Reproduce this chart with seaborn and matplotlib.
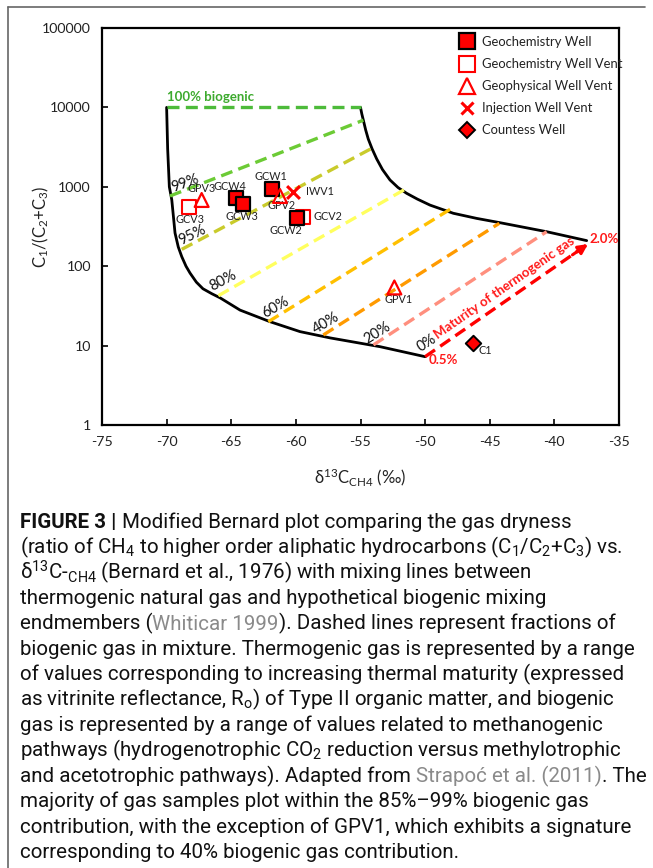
import numpy as np
import pandas as pd
import matplotlib
matplotlib.use("Agg")
import matplotlib.pyplot as plt
import seaborn as sns
from matplotlib.lines import Line2D
from matplotlib.ticker import FixedLocator, NullLocator

sns.set_theme(style="white")
plt.rcParams['font.family'] = ['Lato', 'DejaVu Sans']

# ---------------- data ----------------
x_ticks = [-75, -70, -65, -60, -55, -50, -45, -40, -35]
y_ticks = [1, 10, 100, 1000, 10000, 100000]
y_tick_labels = ["1", "10", "100", "1000", "10000", "100000"]

# boundary curves
left_x = [-70.0, -69.92, -69.79, -69.6, -69.35, -69.1, -68.83, -68.5, -68.19, -67.7, -67.19, -66.5, -65.87, -64.32, -62.0, -59.68, -57.35, -53.5, -50.0]
left_y = [10000, 3000, 1000, 682, 262, 175, 132, 100, 82, 63, 52, 45, 40, 28, 20, 15, 12.5, 9.7, 7.25]
upper_x = [-55.0, -54.9, -54.78, -54.6, -54.40, -54.1, -53.75, -53.3, -52.72, -52.1, -51.43, -50.6, -49.62, -47.82, -46.01, -44.2, -40.6, -37.5]
upper_y = [10000, 8300, 6900, 5200, 4000, 3000, 2250, 1650, 1220, 980, 828, 700, 588, 464, 400, 353, 272, 210]

# mixing lines (% biogenic): start and end points
mix_pct = ["100%", "99%", "95%", "80%", "60%", "40%", "20%", "0%"]
mix_x0 = [-70.0, -69.74, -68.83, -66.0, -62.13, -57.88, -54.0, -50.0]
mix_y0 = [10000, 766, 163, 42.5, 20, 13.6, 10.2, 7.25]
mix_x1 = [-55.0, -54.78, -54.13, -51.56, -48.07, -44.26, -40.6, -37.4]
mix_y1 = [10000, 6900, 3050, 930, 520, 347, 272, 190]
mix_colors = ["#4DBB3A", "#6CCB35", "#C9CB2B", "#FFFF5E", "#FFC000", "#FF9A00", "#FF8F7E", "#FF0000"]

# percent labels
pct_lab_text = ["99%", "95%", "80%", "60%", "40%", "20%", "0%"]
pct_lab_x = [-68.6, -68.0, -65.6, -61.6, -57.7, -53.7, -49.9]
pct_lab_y = [1120, 246, 65, 30.6, 19.3, 14.4, 10.7]
pct_lab_rot = [20, 26, 28, 30, 31, 32, 33]

# samples
gcw_names = ["GCW1", "GCW4", "GCW3", "GCW2"]
gcw_x = [-61.82, -64.66, -64.07, -59.94]
gcw_y = [938, 729, 607, 401]
gcv_names = ["GCV2", "GCV3"]
gcv_x = [-59.48, -68.27]
gcv_y = [420, 562]
gpv_names = ["GPV3", "GPV2", "GPV1"]
gpv_x = [-67.29, -61.23, -52.38]
gpv_y = [682, 766, 54]
iwv_names = ["IWV1"]
iwv_x = [-60.2]
iwv_y = [868]
cw_names = ["C1"]
cw_x = [-46.32]
cw_y = [10.7]

legend_labels = ["Geochemistry Well", "Geochemistry Well Vent", "Geophysical Well Vent",
                 "Injection Well Vent", "Countess Well"]

# ---------------- figure ----------------
W, H = 653, 868
fig = plt.figure(figsize=(W / 100, H / 100), dpi=100)
ax = fig.add_axes([102 / W, 1 - 425 / H, 517 / W, 397 / H])
ax.set_yscale("log")
ax.set_xlim(-75, -35)
ax.set_ylim(1, 100000)

# boundary curves
sns.lineplot(x=left_x, y=left_y, sort=False, estimator=None, color="black", lw=2.0, ax=ax)
sns.lineplot(x=upper_x, y=upper_y, sort=False, estimator=None, color="black", lw=2.0, ax=ax)

# mixing lines
for i in range(len(mix_pct)):
    sns.lineplot(x=[mix_x0[i], mix_x1[i]], y=[mix_y0[i], mix_y1[i]], sort=False, estimator=None,
                 color=mix_colors[i], lw=2.4, linestyle=(0, (3.6, 1.9)), ax=ax)

# arrow head on 0% line
ax.annotate("", xy=(mix_x1[-1], mix_y1[-1]), xytext=(-38.6, 139),
            arrowprops=dict(arrowstyle="-|>", color="red", lw=2.2, mutation_scale=14,
                            shrinkA=0, shrinkB=0))

# percent labels
for t, x, y, r in zip(pct_lab_text, pct_lab_x, pct_lab_y, pct_lab_rot):
    ax.text(x, y, t, rotation=r, ha="center", va="center", fontsize=10.5, color="#111111",
            rotation_mode="anchor")

ax.text(-70, 13500, "100% biogenic", color="#3DAA2E", fontsize=9.5, fontweight="bold",
        ha="left", va="center")
ax.text(-48.6, 6.6, "0.5%", color="#FF1A1A", fontsize=9.5, fontweight="bold", ha="center", va="center")
ax.text(-37.3, 220, "2.0%", color="#FF1A1A", fontsize=9.5, fontweight="bold", ha="left", va="center")
ax.text(-43.9, 53, "Maturity of thermogenic gas", color="#FF1A1A", fontsize=9.5, fontweight="bold",
        ha="center", va="center", rotation=35, rotation_mode="anchor")

# samples
sns.scatterplot(x=gcw_x, y=gcw_y, marker="s", s=100, color="#FF0000", edgecolor="black",
                linewidth=1.6, ax=ax, zorder=5)
sns.scatterplot(x=gcv_x, y=gcv_y, marker="s", s=100, facecolors="none", edgecolors="#FF0000",
                linewidth=1.5, ax=ax, zorder=4)
sns.scatterplot(x=gpv_x, y=gpv_y, marker="^", s=100, facecolors="none", edgecolors="#FF0000",
                linewidth=1.6, ax=ax, zorder=6)
sns.scatterplot(x=iwv_x, y=iwv_y, marker="x", s=85, color="#FF0000", linewidth=2.2, ax=ax, zorder=6)
sns.scatterplot(x=cw_x, y=cw_y, marker="D", s=62, color="#FF0000", edgecolor="black",
                linewidth=1.4, ax=ax, zorder=6)

# sample labels (offsets in points)
lab_offsets = {
    "GCW1": (-1, 9, "center"), "GCW4": (-4, 8, "center"), "GCW3": (-1, -9, "center"),
    "GCW2": (-8, -9, "center"), "GCV2": (8, 0, "left"), "GCV3": (1, -9, "center"),
    "GPV3": (0, 8, "center"), "GPV2": (1, -7, "center"), "GPV1": (3, -9, "center"),
    "IWV1": (9, 0, "left"), "C1": (4, -5, "left"),
}
all_names = gcw_names + gcv_names + gpv_names + iwv_names + cw_names
all_x = gcw_x + gcv_x + gpv_x + iwv_x + cw_x
all_y = gcw_y + gcv_y + gpv_y + iwv_y + cw_y
for n, x, y in zip(all_names, all_x, all_y):
    dx, dy, ha = lab_offsets[n]
    ax.annotate(n, (x, y), xytext=(dx, dy), textcoords="offset points", ha=ha, va="center",
                fontsize=7.8, color="#222222")

# legend: fit font so the longest label spans about 140 px
fig.canvas.draw()
renderer = fig.canvas.get_renderer()
probe = fig.text(0, 0, legend_labels[1], fontsize=10)
pw = probe.get_window_extent(renderer=renderer).width
probe.remove()
leg_fs = 10 * 140.0 / pw

handles = [
    Line2D([], [], marker="s", ls="", mfc="#FF0000", mec="black", mew=1.6, ms=11.5),
    Line2D([], [], marker="s", ls="", mfc="none", mec="#FF0000", mew=1.5, ms=11.5),
    Line2D([], [], marker="^", ls="", mfc="none", mec="#FF0000", mew=1.6, ms=11.5),
    Line2D([], [], marker="x", ls="", mfc="none", mec="#FF0000", mew=2.2, ms=9),
    Line2D([], [], marker="D", ls="", mfc="#FF0000", mec="black", mew=1.4, ms=8.5),
]
leg = ax.legend(handles, legend_labels, loc="upper left", bbox_to_anchor=(0.672, 1.006),
                frameon=False, fontsize=leg_fs, handlelength=1.1, handletextpad=0.6,
                labelspacing=0.78, borderpad=0.3)
for t in leg.get_texts():
    t.set_color("#222222")

# axes styling
ax.xaxis.set_major_locator(FixedLocator(x_ticks))
ax.set_xticklabels([str(v) for v in x_ticks])
ax.yaxis.set_major_locator(FixedLocator(y_ticks))
ax.yaxis.set_minor_locator(NullLocator())
ax.set_yticklabels(y_tick_labels)
ax.tick_params(axis="both", which="major", labelsize=10.2, colors="black", direction="in",
               length=4, width=1.2, pad=8, labelcolor="#222222", left=True, bottom=True)
for s in ax.spines.values():
    s.set_color("black")
    s.set_linewidth(1.6)
ax.set_ylabel(r"$\mathregular{C_1/(C_2{+}C_3)}$", fontsize=12, color="#222222")
ax.yaxis.set_label_coords(-0.098, 0.5)
ax.set_xlabel(r"$\mathregular{\delta^{13}C_{CH4}}$ (‰)", fontsize=12, color="#222222", labelpad=13)

# outer frame lines
fig.add_artist(Line2D([8 / W, 645 / W], [1 - 7 / H, 1 - 7 / H], color="#666666", lw=1.2))
fig.add_artist(Line2D([8 / W, 8 / W], [1 - 7 / H, 0], color="#666666", lw=1.2))

# ---------------- caption ----------------
CAP = ["Roboto", "DejaVu Sans"]
cap_size = 14.8
plain = dict(color="#111111")
gray = dict(color="#8A8A8A")
bold = dict(color="#111111", fontweight="bold")
caption_lines = [
    [("FIGURE 3 | ", bold), ("Modified Bernard plot comparing the gas dryness", plain)],
    [(r"(ratio of CH$\mathregular{_4}$ to higher order aliphatic hydrocarbons (C$\mathregular{_1}$/C$\mathregular{_2}$+C$\mathregular{_3}$) vs.", plain)],
    [(r"δ$\mathregular{^{13}}$C-$\mathregular{_{CH4}}$ (Bernard et al., 1976) with mixing lines between", plain)],
    [("thermogenic natural gas and hypothetical biogenic mixing", plain)],
    [("endmembers (", plain), ("Whiticar 1999", gray), ("). Dashed lines represent fractions of", plain)],
    [("biogenic gas in mixture. Thermogenic gas is represented by a range", plain)],
    [("of values corresponding to increasing thermal maturity (expressed", plain)],
    [(r"as vitrinite reflectance, R$\mathregular{_o}$) of Type II organic matter, and biogenic", plain)],
    [("gas is represented by a range of values related to methanogenic", plain)],
    [(r"pathways (hydrogenotrophic CO$\mathregular{_2}$ reduction versus methylotrophic", plain)],
    [("and acetotrophic pathways). Adapted from ", plain), ("Strapoć et al. (2011)", gray), (". The", plain)],
    [("majority of gas samples plot within the 85%–99% biogenic gas", plain)],
    [("contribution, with the exception of GPV1, which exhibits a signature", plain)],
    [("corresponding to 40% biogenic gas contribution.", plain)],
]
x_start = 20
y_base = 528
dy = 25.4
for i, segs in enumerate(caption_lines):
    x = x_start
    yb = 1 - (y_base + i * dy) / H
    for s, props in segs:
        t = fig.text(x / W, yb, s, family=CAP, fontsize=cap_size, va="baseline", ha="left", **props)
        bb = t.get_window_extent(renderer=renderer)
        x += bb.width

fig.savefig("out.png", dpi=100)
